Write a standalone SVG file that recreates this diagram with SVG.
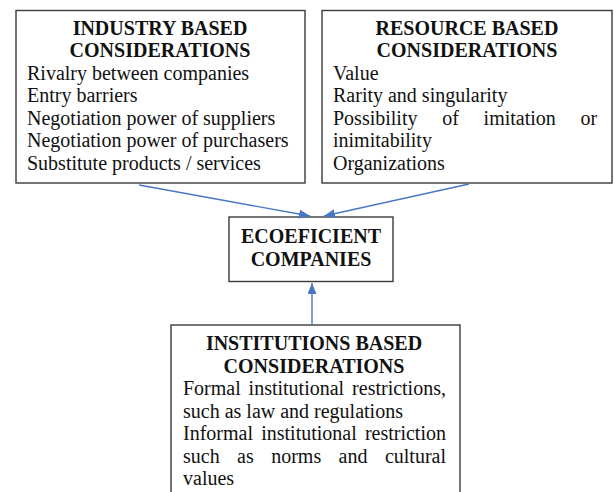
<svg xmlns="http://www.w3.org/2000/svg" width="614" height="492" viewBox="0 0 614 492">
  <style>
    .box { fill: #ffffff; stroke: #3a3a3a; stroke-width: 1.4; }
    .title { font-family: "Liberation Serif", "Times New Roman", serif; font-weight: bold; font-size: 20px; fill: #111; text-anchor: middle; }
    .body { font-family: "Liberation Serif", "Times New Roman", serif; font-size: 20px; fill: #111; }
    .link { stroke: #4a76c6; stroke-width: 1.4; fill: none; marker-end: url(#arrow); }
  </style>
  <defs>
    <marker id="arrow" markerUnits="userSpaceOnUse" markerWidth="12" markerHeight="10" refX="11" refY="4.5" orient="auto">
      <path d="M0,0 L11,4.5 L0,9 z" fill="#4a76c6"/>
    </marker>
  </defs>
  <rect width="614" height="492" fill="#ffffff"/>

  <g id="industry">
    <rect class="box" x="16" y="10.5" width="289" height="172.5"/>
    <text class="title" x="160" y="34.5">INDUSTRY BASED</text>
    <text class="title" x="160" y="57">CONSIDERATIONS</text>
    <text class="body" x="27" y="79.5">Rivalry between companies</text>
    <text class="body" x="27" y="102">Entry barriers</text>
    <text class="body" x="27" y="124.5">Negotiation power of suppliers</text>
    <text class="body" x="27" y="147">Negotiation power of purchasers</text>
    <text class="body" x="27" y="169.5">Substitute products / services</text>
  </g>

  <g id="resource">
    <rect class="box" x="322" y="10.5" width="290" height="172.5"/>
    <text class="title" x="467" y="34.5">RESOURCE BASED</text>
    <text class="title" x="467" y="57">CONSIDERATIONS</text>
    <text class="body" x="333" y="79.5">Value</text>
    <text class="body" x="333" y="102">Rarity and singularity</text>
    <text class="body" y="124.5"><tspan x="333">Possibility</tspan><tspan x="442.2">of</tspan><tspan x="483.6">imitation</tspan><tspan x="580.5">or</tspan></text>
    <text class="body" x="333" y="147">inimitability</text>
    <text class="body" x="333" y="169.5">Organizations</text>
  </g>

  <g id="ecoeficient">
    <rect class="box" x="229" y="217" width="164" height="64.5"/>
    <text class="title" x="311" y="243">ECOEFICIENT</text>
    <text class="title" x="311" y="265.5">COMPANIES</text>
  </g>

  <g id="institutions">
    <rect class="box" x="171" y="325" width="289" height="180"/>
    <text class="title" x="314" y="350">INSTITUTIONS BASED</text>
    <text class="title" x="314" y="372.5">CONSIDERATIONS</text>
    <text class="body" y="395"><tspan x="183">Formal</tspan><tspan x="248.6">institutional</tspan><tspan x="352.1">restrictions,</tspan></text>
    <text class="body" x="183" y="417.5">such as law and regulations</text>
    <text class="body" y="440"><tspan x="183">Informal</tspan><tspan x="261.2">institutional</tspan><tspan x="364.9">restriction</tspan></text>
    <text class="body" y="462.5"><tspan x="183">such</tspan><tspan x="237.1">as</tspan><tspan x="271.2">norms</tspan><tspan x="338.6">and</tspan><tspan x="384.9">cultural</tspan></text>
    <text class="body" x="183" y="485">values</text>
  </g>

  <g id="connectors">
    <line class="link" x1="139" y1="185" x2="310" y2="216"/>
    <line class="link" x1="469" y1="184" x2="324" y2="216"/>
    <line class="link" x1="312" y1="325" x2="312" y2="283"/>
  </g>
</svg>
